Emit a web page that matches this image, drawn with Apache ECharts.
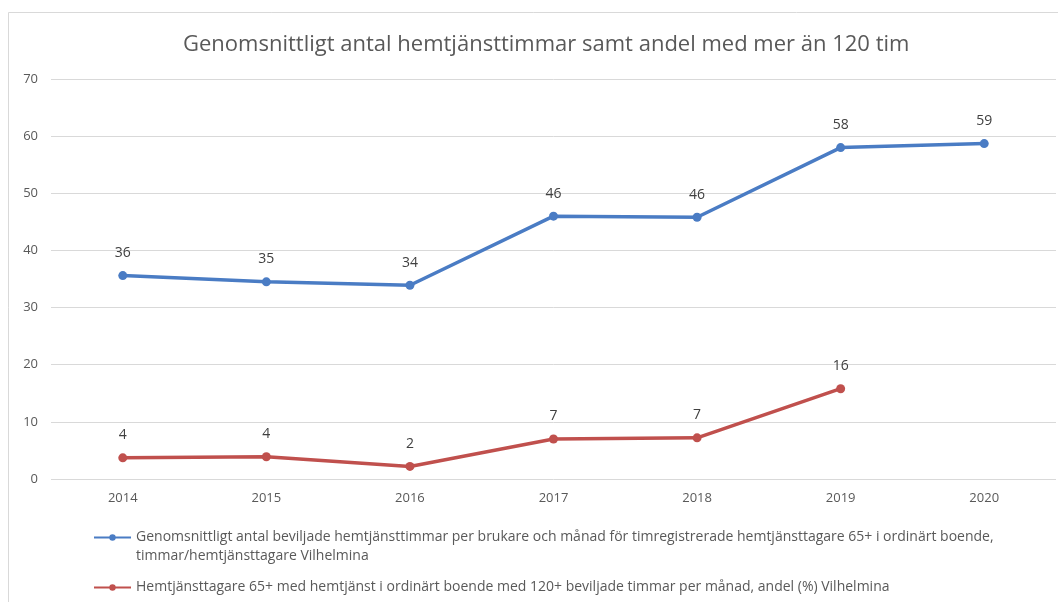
<!DOCTYPE html>
<html>
<head>
<meta charset="utf-8">
<script src="https://cdn.jsdelivr.net/npm/echarts@6/dist/echarts.min.js"></script>
<style>
  html, body { margin: 0; padding: 0; background: #fff; }
  #chart { width: 1058px; height: 602px; }
</style>
</head>
<body>
<div id="chart"></div>
<script type="text/javascript">

var years = ['2014', '2015', '2016', '2017', '2018', '2019', '2020'];
var timmarValues = [35.6, 34.5, 33.9, 46.0, 45.8, 58.0, 58.7];
var andelValues = [3.7, 3.9, 2.2, 7.0, 7.2, 15.8, null];
var yTicks = [0, 10, 20, 30, 40, 50, 60, 70];

var timmarName = 'Genomsnittligt antal beviljade hemtjänsttimmar per brukare och månad för timregistrerade hemtjänsttagare 65+ i ordinärt boende,\ntimmar/hemtjänsttagare Vilhelmina';
var andelName = 'Hemtjänsttagare 65+ med hemtjänst i ordinärt boende med 120+ beviljade timmar per månad, andel (%) Vilhelmina';

var fontName = 'Open Sans';

function roundLabel(p) {
	return Math.round(p.value);
}

var chart = echarts.init(document.getElementById('chart'));

var option = {
	backgroundColor: '#fff',
	textStyle: { fontFamily: fontName },
	title: {
		text: 'Genomsnittligt antal hemtjänsttimmar samt andel med mer än 120 tim',
		left: 178,
		top: 29,
		textStyle: { fontFamily: fontName, fontSize: 22, fontWeight: 'normal', color: '#595959' }
	},
	// ram runt diagrammet
	graphic: [{
		type: 'rect',
		shape: { x: 8.5, y: 12.5, width: 1070, height: 610 },
		style: { fill: 'none', stroke: '#d9d9d9', lineWidth: 1 },
		silent: true
	}],
	grid: { left: 51, right: 2, top: 79, bottom: 123, containLabel: false },
	legend: {
		orient: 'vertical',
		left: 88,
		top: 504,
		itemWidth: 37,
		itemHeight: 8,
		itemGap: 12,
		textStyle: { fontFamily: fontName, fontSize: 14, color: '#595959', lineHeight: 19 },
		// tom rad först så att ikonen hamnar i höjd med första raden
		formatter: function (name) {
			return name.indexOf('\n') >= 0 ? ' \n' + name : name;
		},
		data: [timmarName, andelName]
	},
	xAxis: {
		type: 'category',
		data: years,
		boundaryGap: true,
		axisLine: { show: false },
		axisTick: { show: false },
		axisLabel: { color: '#595959', fontSize: 13, margin: 13 }
	},
	yAxis: {
		type: 'value',
		min: yTicks[0],
		max: yTicks[yTicks.length - 1],
		interval: 10,
		axisLine: { show: false },
		axisTick: { show: false },
		axisLabel: { color: '#595959', fontSize: 13, margin: 13 },
		splitLine: { lineStyle: { color: '#d9d9d9', width: 1 } }
	},
	series: [
		{
			name: timmarName,
			type: 'line',
			data: timmarValues,
			color: '#4a7cc4',
			symbol: 'circle',
			symbolSize: 9,
			lineStyle: { width: 3.5 },
			label: { show: true, position: 'top', distance: 11, formatter: roundLabel, color: '#404040', fontSize: 14 }
		},
		{
			name: andelName,
			type: 'line',
			data: andelValues,
			color: '#c0504d',
			symbol: 'circle',
			symbolSize: 9,
			lineStyle: { width: 3.5 },
			label: { show: true, position: 'top', distance: 11, formatter: roundLabel, color: '#404040', fontSize: 14 }
		}
	]
};

chart.setOption(option);
</script>
</body>
</html>
